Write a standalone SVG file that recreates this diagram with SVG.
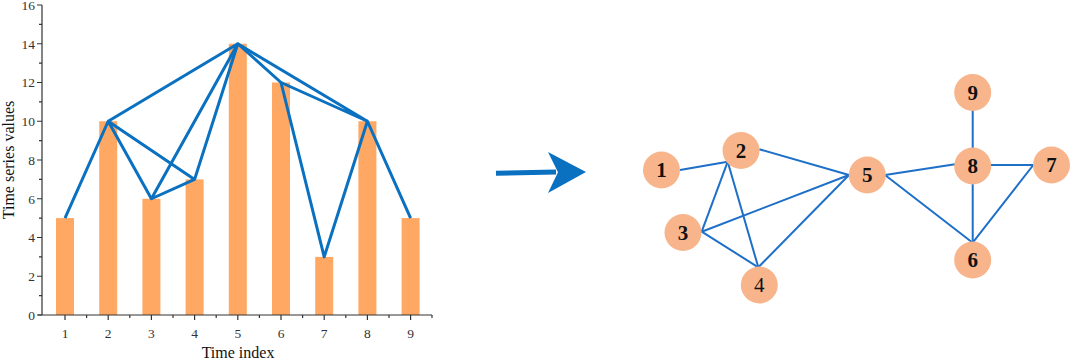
<svg xmlns="http://www.w3.org/2000/svg" width="1072" height="361" viewBox="0 0 1072 361">
<style>
.bar{fill:#FFA863}
.ax{stroke:#333;stroke-width:1.2;fill:none}
.tl{font-family:"Liberation Serif",serif;font-size:13.5px;fill:#333}
.lab{font-family:"Liberation Serif",serif;font-size:16px;fill:#111}
.vg{stroke:#0A70C0;stroke-width:3;fill:none;stroke-linejoin:round}
.ne{stroke:#1E6FC8;stroke-width:2;fill:none}
.node circle{fill:#F8B58C}
.node text{font-family:"Liberation Serif",serif;font-size:21px;font-weight:bold;fill:#111;text-anchor:middle}
</style>
<rect width="1072" height="361" fill="#fff"/>
<g id="chart">
<g id="bars">
<rect class="bar" x="56" y="218.1" width="18" height="96.9"/>
<rect class="bar" x="99.2" y="121.25" width="18" height="193.75"/>
<rect class="bar" x="142.4" y="198.75" width="18" height="116.25"/>
<rect class="bar" x="185.6" y="179.4" width="18" height="135.6"/>
<rect class="bar" x="228.8" y="43.75" width="18" height="271.25"/>
<rect class="bar" x="272" y="82.5" width="18" height="232.5"/>
<rect class="bar" x="315.2" y="256.9" width="18" height="58.1"/>
<rect class="bar" x="358.4" y="121.25" width="18" height="193.75"/>
<rect class="bar" x="401.6" y="218.1" width="18" height="96.9"/>
</g>
<g id="axes">
<path class="ax" d="M42,5V315M38,315H432"/>
<path class="ax" d="M37,5H42M37,43.75H42M37,82.5H42M37,121.25H42M37,160H42M37,198.75H42M37,237.5H42M37,276.25H42M37,315H42"/>
<path class="ax" d="M39,24.4H42M39,63.1H42M39,101.9H42M39,140.6H42M39,179.4H42M39,218.1H42M39,256.9H42M39,295.6H42"/>
<path class="ax" d="M65,315V320M108.2,315V320M151.4,315V320M194.6,315V320M237.8,315V320M281,315V320M324.2,315V320M367.4,315V320M410.6,315V320"/>
<path class="ax" d="M86.6,315V318M129.8,315V318M173,315V318M216.2,315V318M259.4,315V318M302.6,315V318M345.8,315V318M389,315V318M432,315V318"/>
<g class="tl" text-anchor="end">
<text x="35" y="10">16</text><text x="35" y="48.5">14</text><text x="35" y="87.3">12</text><text x="35" y="126">10</text><text x="35" y="164.8">8</text><text x="35" y="203.5">6</text><text x="35" y="242.3">4</text><text x="35" y="281">2</text><text x="35" y="319.8">0</text>
</g>
<g class="tl" text-anchor="middle">
<text x="65" y="337.5">1</text><text x="108.2" y="337.5">2</text><text x="151.4" y="337.5">3</text><text x="194.6" y="337.5">4</text><text x="237.8" y="337.5">5</text><text x="281" y="337.5">6</text><text x="324.2" y="337.5">7</text><text x="367.4" y="337.5">8</text><text x="410.6" y="337.5">9</text>
</g>
<text class="lab" text-anchor="middle" transform="translate(14,160) rotate(-90)">Time series values</text>
<text class="lab" text-anchor="middle" x="238" y="357.5">Time index</text>
</g>
<g id="visibility-lines">
<path class="vg" d="M65,218.1L108.2,121.25L151.4,198.75L194.6,179.4L237.8,43.75L281,82.5L324.2,256.9L367.4,121.25L410.6,218.1"/>
<path class="vg" d="M108.2,121.25L194.6,179.4M108.2,121.25L237.8,43.75M151.4,198.75L237.8,43.75M237.8,43.75L367.4,121.25M281,82.5L367.4,121.25"/>
</g>
</g>
<g id="arrow">
<path d="M496,173.3L556,172" stroke="#0A70C0" stroke-width="5" fill="none"/>
<polygon points="548,152 586,172 548,193 558,172.2" fill="#0A70C0"/>
</g>
<g id="connectors">
<path class="ne" d="M680,170L727.7,161.7"/>
<path class="ne" d="M727.7,161.7L701.7,231.7"/>
<path class="ne" d="M727.7,161.7L758.3,267.3"/>
<path class="ne" d="M759.3,149.3L849,175"/>
<path class="ne" d="M701.7,231.7L758.3,267.3"/>
<path class="ne" d="M701.7,231.7L849,175"/>
<path class="ne" d="M758.3,267.3L849,175"/>
<path class="ne" d="M885,175L955,164.3"/>
<path class="ne" d="M885,175L972.7,242.7"/>
<path class="ne" d="M972.7,109.3V149"/>
<path class="ne" d="M972.7,181.7V242.7"/>
<path class="ne" d="M990.7,165H1033.3"/>
<path class="ne" d="M1033.3,165L972.7,242.7"/>
</g>
<g id="node1" class="node"><circle cx="661.5" cy="170" r="18.5"/><text x="661.5" y="177">1</text></g>
<g id="node2" class="node"><circle cx="741" cy="150.5" r="18.5"/><text x="741" y="157.5">2</text></g>
<g id="node3" class="node"><circle cx="683" cy="232.5" r="18.5"/><text x="683" y="239.5">3</text></g>
<g id="node4" class="node"><circle cx="759.3" cy="285" r="18.5"/><text x="759.3" y="292" style="font-weight:normal">4</text></g>
<g id="node5" class="node"><circle cx="867.3" cy="175" r="18.5"/><text x="867.3" y="182">5</text></g>
<g id="node6" class="node"><circle cx="972.7" cy="260" r="18.5"/><text x="972.7" y="267">6</text></g>
<g id="node7" class="node"><circle cx="1051.5" cy="165" r="18.5"/><text x="1051.5" y="172">7</text></g>
<g id="node8" class="node"><circle cx="972.7" cy="166" r="18.5"/><text x="972.7" y="173">8</text></g>
<g id="node9" class="node"><circle cx="972.7" cy="92.5" r="18.5"/><text x="972.7" y="99.5">9</text></g>
</svg>
